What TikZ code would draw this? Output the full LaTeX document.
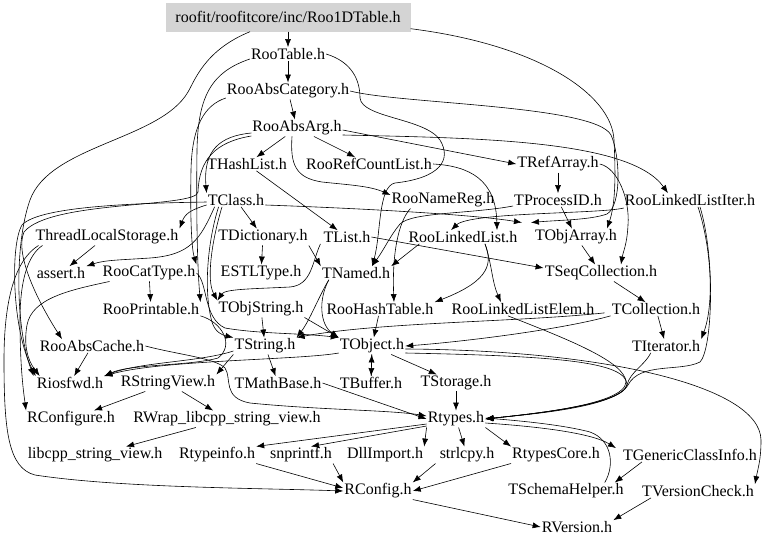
\documentclass[tikz,border=0pt]{standalone}
\usepackage{fontspec}
\setmainfont{Liberation Serif}
\usetikzlibrary{calc,arrows.meta}
\begin{document}
\begin{tikzpicture}[x=1pt,y=-1pt,
  hfile/.style={inner sep=1pt,font=\fontsize{16}{18}\selectfont},
  dep/.style={-{Latex[length=8pt,width=6pt]},black,line width=0.6pt}]
\useasboundingbox (0,0) rectangle (768,547);
% header files, one rank per block
\node[hfile,fill=black!17,minimum width=245pt,minimum height=29pt](tbl1d)at(288,17){roofit/roofitcore/inc/Roo1DTable.h};
\node[hfile](rootable)at(288,54){RooTable.h};
\node[hfile](absCat)at(288,91){RooAbsCategory.h};
\node[hfile](absArg)at(297,128){RooAbsArg.h};
\node[hfile](hashList)at(247,164){THashList.h};
\node[hfile](refCount)at(369,164){RooRefCountList.h};
\node[hfile](refArray)at(558,164){TRefArray.h};
\node[hfile](tclass)at(236,200){TClass.h};
\node[hfile](nameReg)at(443,200){RooNameReg.h};
\node[hfile](processID)at(558,200){TProcessID.h};
\node[hfile](llIter)at(690,200){RooLinkedListIter.h};
\node[hfile](tls)at(107,237){ThreadLocalStorage.h};
\node[hfile](tdict)at(263,237){TDictionary.h};
\node[hfile](tlist)at(347,237){TList.h};
\node[hfile](linkedList)at(463,237){RooLinkedList.h};
\node[hfile](objArray)at(576,237){TObjArray.h};
\node[hfile](cassert)at(61,273){assert.h};
\node[hfile](catType)at(149,273){RooCatType.h};
\node[hfile](estl)at(261,273){ESTLType.h};
\node[hfile](tnamed)at(356,273){TNamed.h};
\node[hfile](seqColl)at(601,273){TSeqCollection.h};
\node[hfile](printable)at(151,309){RooPrintable.h};
\node[hfile](objString)at(261,309){TObjString.h};
\node[hfile](hashTable)at(380,309){RooHashTable.h};
\node[hfile](llElem)at(523,309){RooLinkedListElem.h};
\node[hfile](tcoll)at(656,309){TCollection.h};
\node[hfile](absCache)at(92,346){RooAbsCache.h};
\node[hfile](tstring)at(265,346){TString.h};
\node[hfile](tobject)at(372,346){TObject.h};
\node[hfile](titer)at(666,346){TIterator.h};
\node[hfile](riosfwd)at(70,383){Riosfwd.h};
\node[hfile](strView)at(168,383){RStringView.h};
\node[hfile](mathBase)at(278,383){TMathBase.h};
\node[hfile](tbuffer)at(371,383){TBuffer.h};
\node[hfile](tstorage)at(456,383){TStorage.h};
\node[hfile](rconfigure)at(71,419){RConfigure.h};
\node[hfile](rwrap)at(227,419){RWrap\_libcpp\_string\_view.h};
\node[hfile](rtypes)at(456,419){Rtypes.h};
\node[hfile](libcpp)at(95,455){libcpp\_string\_view.h};
\node[hfile](rtypeinfo)at(217,455){Rtypeinfo.h};
\node[hfile](snprintf)at(301,455){snprintf.h};
\node[hfile](dllimport)at(385,455){DllImport.h};
\node[hfile](strlcpy)at(467,455){strlcpy.h};
\node[hfile](rtypesCore)at(556,455){RtypesCore.h};
\node[hfile](genClass)at(690,455){TGenericClassInfo.h};
\node[hfile](rconfig)at(378,491){RConfig.h};
\node[hfile](schema)at(566,491){TSchemaHelper.h};
\node[hfile](versionCheck)at(698,491){TVersionCheck.h};
\node[hfile](rversion)at(577,527){RVersion.h};
% include edges
\draw[dep](tbl1d)--(rootable);
\draw[dep]($(tbl1d.south east)+(0,-3)$) .. controls (540,45) and (612,95) .. (614,140) .. controls (616,180) and (615,205) .. ($(objArray.north)+(31,0)$);
\draw[dep]($(tbl1d.south)+(-38,0)$) .. controls (205,50) and (195,80) .. (188,92) .. controls (160,140) and (50,145) .. (30,200) .. controls (14,245) and (16,330) .. ($(riosfwd.north west)+(-2,0)$);
\draw[dep](rootable)--(absCat);
\draw[dep]($(rootable.west)+(0,5)$) .. controls (212,72) and (198,95) .. (197,150) .. controls (196,230) and (198,275) .. (printable.north east);
\draw[dep](rootable.east) .. controls (352,62) and (360,80) .. (360,98) .. controls (362,118) and (425,118) .. (440,140) .. controls (452,160) and (440,178) .. (395,183) .. controls (378,186) and (381,235) .. ($(tnamed.north)+(16,0)$);
\draw[dep](absCat)--(absArg);
\draw[dep]($(absCat.west)+(0,7)$) .. controls (205,105) and (192,125) .. (191,170) .. controls (190,225) and (192,250) .. (catType.north east);
\draw[dep](absCat.east) .. controls (400,104) and (595,105) .. (611,135) .. controls (620,155) and (622,205) .. (607,214) .. controls (590,220) and (560,220) .. ($(objArray.north west)+(-3,-6)$);
\draw[dep](absArg)--(hashList);
\draw[dep](absArg)--(refCount);
\draw[dep]($(absArg.east)+(0,2)$)--(refArray.west);
\draw[dep]($(absArg.east)+(0,7)$) .. controls (480,138) and (630,140) .. ($(llIter.north)+(-22,0)$);
\draw[dep]($(absArg.south)+(-5,0)$) .. controls (290,165) and (296,178) .. (322,182) .. controls (350,185) and (370,186) .. ($(nameReg.west)+(0,-5)$);
\draw[dep]($(absArg.west)+(0,5)$) .. controls (220,136) and (203,150) .. (tclass.north west);
\draw[dep]($(absArg.west)+(0,8)$) .. controls (215,142) and (199,160) .. (198,192) .. controls (197,208) and (50,200) .. (24,232) .. controls (14,255) and (40,305) .. ($(absCache.north)+(-30,0)$);
\draw[dep](hashList)--(tlist);
\draw[dep](refArray)--(processID);
\draw[dep](refArray.east) .. controls (618,168) and (630,200) .. (628,225) .. controls (627,245) and (623,252) .. ($(seqColl.north)+(20,0)$);
\draw[dep](refCount.east) .. controls (470,166) and (496,180) .. ($(linkedList.north)+(34,0)$);
\draw[dep](tclass)--(tdict);
\draw[dep]($(tclass.east)+(0,5)$) .. controls (350,208) and (470,214) .. ($(objArray.north west)+(-12,-6)$);
\draw[dep]($(tclass.west)+(0,5)$) .. controls (190,210) and (185,214) .. (tls.north east);
\draw[dep]($(tclass.west)+(0,2)$) .. controls (150,203) and (40,205) .. (22,225) .. controls (10,245) and (12,330) .. (riosfwd.north west);
\draw[dep]($(tclass.south west)+(8,0)$) .. controls (200,240) and (190,255) .. (150,258) .. controls (120,260) and (105,260) .. (cassert.north east);
\draw[dep]($(tclass.south west)+(12,0)$) .. controls (208,240) and (203,290) .. (212,322) .. controls (215,332) and (222,335) .. (tstring.north west);
\draw[dep]($(tclass.south)+(-14,0)$) .. controls (212,240) and (206,280) .. (objString.north west);
\draw[dep]($(tls.south)+(-12,0)$)--(cassert);
\draw[dep]($(tls.south west)+(8,0)$) .. controls (28,255) and (20,280) .. (20,320) .. controls (20,370) and (24,395) .. (rconfigure.north west);
\draw[dep]($(tls.south west)+(4,0)$) .. controls (15,260) and (4,300) .. (4,360) .. controls (4,430) and (8,468) .. (35,475) .. controls (120,488) and (260,488) .. (rconfig.west);
\draw[dep](tdict)--(estl);
\draw[dep](tdict.south east)--(tnamed.north west);
\draw[dep](tlist.east)--($(seqColl.west)+(0,-5)$);
\draw[dep]($(tlist.south west)+(-2,0)$) .. controls (312,262) and (312,285) .. (290,287) .. controls (250,289) and (225,289) .. (objString.north west);
\draw[dep]($(nameReg.south west)+(20,0)$) .. controls (398,222) and (392,255) .. ($(hashTable.north)+(14,0)$);
\draw[dep](processID)--(objArray);
\draw[dep]($(processID.west)+(0,6)$) .. controls (470,214) and (412,212) .. (400,224) .. controls (390,236) and (385,248) .. ($(tnamed.north)+(16,0)$);
\draw[dep]($(llIter.west)+(0,8)$) .. controls (600,214) and (470,212) .. ($(linkedList.north)+(-12,0)$);
\draw[dep]($(llIter.south)+(8,0)$) .. controls (712,250) and (714,305) .. (titer.north east);
\draw[dep]($(llIter.south)+(10,0)$) .. controls (716,260) and (712,350) .. (700,362) .. controls (680,372) and (640,362) .. (628,385) .. controls (615,408) and (530,414) .. (rtypes.east);
\draw[dep]($(linkedList.south west)+(12,0)$)--(tnamed.north east);
\draw[dep]($(linkedList.south)+(22,0)$) .. controls (492,262) and (492,280) .. (hashTable.north east);
\draw[dep]($(linkedList.south)+(22,0)$) .. controls (492,265) and (492,282) .. ($(llElem.north)+(-22,0)$);
\draw[dep](objArray)--(seqColl);
\draw[dep](seqColl)--(tcoll);
\draw[dep](catType)--(printable);
\draw[dep]($(catType.south west)+(8,0)$) .. controls (70,290) and (32,298) .. (27,325) .. controls (24,342) and (26,358) .. ($(riosfwd.north west)+(4,0)$);
\draw[dep](catType.east) .. controls (208,282) and (203,318) .. (225,328) .. controls (260,334) and (300,333) .. (tobject.north west);
\draw[dep](printable.south east) .. controls (222,322) and (235,345) .. (218,358) .. controls (190,366) and (130,364) .. (riosfwd.north east);
\draw[dep](objString)--(tstring);
\draw[dep](objString.south east)--(tobject.north west);
\draw[dep]($(tnamed.south west)+(8,0)$) .. controls (318,300) and (320,325) .. (tobject.north west);
\draw[dep]($(tnamed.south west)+(8,0)$) .. controls (318,298) and (310,320) .. (tstring.north east);
\draw[dep](hashTable)--(tobject);
\draw[dep]($(llElem.south)+(-15,0)$) .. controls (570,340) and (625,362) .. (626,382) .. controls (625,405) and (530,414) .. (rtypes.east);
\draw[dep]($(tcoll.south west)+(-6,-3)$) .. controls (520,322) and (380,322) .. (tstring.north east);
\draw[dep](tcoll.south west) .. controls (560,330) and (460,342) .. (tobject.east);
\draw[dep](tcoll)--(titer);
\draw[dep]($(titer.south west)+(20,0)$) .. controls (645,365) and (630,372) .. (627,385) .. controls (622,405) and (530,414) .. (rtypes.east);
\draw[dep](absCache)--(riosfwd);
\draw[dep](absCache.east) .. controls (180,355) and (215,358) .. (225,368) .. controls (232,378) and (222,398) .. (250,403) .. controls (320,410) and (390,410) .. ($(rtypes.west)+(0,-3)$);
\draw[dep]($(tstring.west)+(0,5)$) .. controls (200,362) and (140,362) .. (riosfwd.north east);
\draw[dep](tstring)--(mathBase);
\draw[dep](tstring.south west)--(strView.north east);
\draw[dep]($(tobject.west)+(0,7)$) .. controls (300,360) and (160,360) .. (riosfwd.north east);
\draw[dep](tobject)--(tbuffer);
\draw[dep](tbuffer)--(tobject);
\draw[dep](tobject)--(tstorage);
\draw[dep]($(tobject.east)+(0,3)$) .. controls (600,350) and (760,385) .. (761,440) .. controls (761,460) and (758,468) .. (versionCheck.north east);
\draw[dep]($(tobject.east)+(0,7)$) .. controls (560,356) and (625,362) .. (627,384) .. controls (625,405) and (530,414) .. (rtypes.east);
\draw[dep](tstorage)--(rtypes);
\draw[dep](mathBase.east)--(rtypes.west);
\draw[dep](strView)--(rconfigure);
\draw[dep](strView)--(rwrap);
\draw[dep](rwrap)--(libcpp);
\draw[dep]($(rtypes.west)+(0,5)$)--(rtypeinfo.north east);
\draw[dep]($(rtypes.west)+(0,7)$)--($(snprintf.north)+(10,0)$);
\draw[dep](rtypes.south west)--(dllimport.north east);
\draw[dep](rtypes)--(strlcpy);
\draw[dep](rtypes.south east)--(rtypesCore.north west);
\draw[dep]($(rtypes.east)+(0,4)$) .. controls (530,426) and (590,432) .. ($(genClass.north west)+(-6,0)$);
\draw[dep]($(schema.north east)+(-20,0)$) .. controls (615,465) and (612,440) .. (590,432) .. controls (560,424) and (510,420) .. ($(rtypes.east)+(0,-1)$);
\draw[dep]($(genClass.south west)+(20,0)$)--($(schema.north east)+(-10,0)$);
\draw[dep](rtypeinfo.south east)--($(rconfig.west)+(0,-3)$);
\draw[dep](snprintf.south east)--(rconfig.north west);
\draw[dep]($(strlcpy.south west)+(-3,0)$)--(rconfig.north east);
\draw[dep](rtypesCore.south west)--(rconfig.east);
\draw[dep](rconfig.south east)--(rversion.west);
\draw[dep]($(versionCheck.south west)+(10,0)$)--(rversion.north east);
\end{tikzpicture}
\end{document}
